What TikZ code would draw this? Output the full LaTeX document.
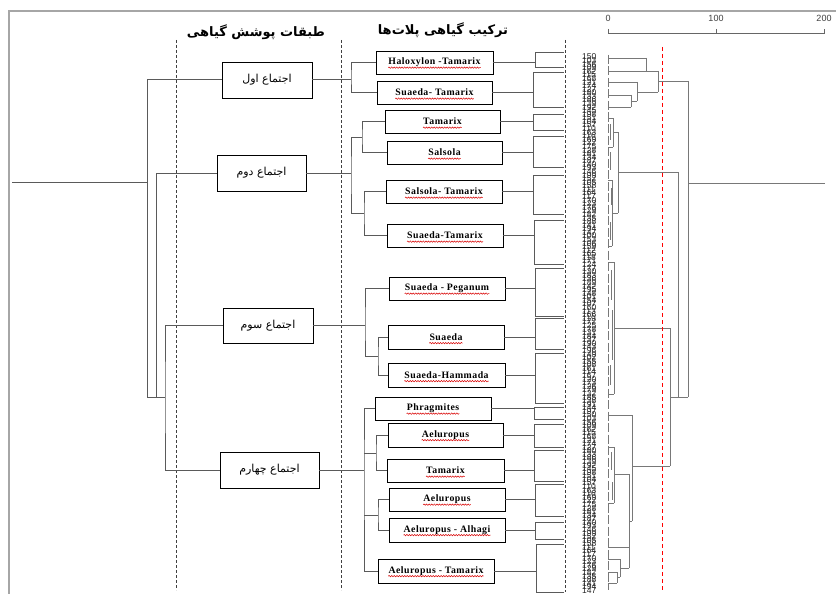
\documentclass[tikz,border=0pt]{standalone}
\usepackage{fontspec}
\usetikzlibrary{decorations.pathmorphing}
\setmainfont{Liberation Serif}
\newfontfamily\fa[Script=Arabic]{DejaVu Sans}
\newfontfamily\spf[LetterSpace=5]{Liberation Serif}
\newfontfamily\axf{Liberation Sans}
\TeXXeTstate=1
\definecolor{ln}{RGB}{90,90,90}
\definecolor{dg}{RGB}{120,120,120}
\begin{document}
\begin{tikzpicture}[x=1pt,y=-1pt,
  comm/.style={draw=black, line width=0.9pt, inner sep=0pt, font=\fa\fontsize{11}{12}\selectfont},
  spec/.style={draw=black, line width=0.9pt, inner sep=0pt},
  spectxt/.style={inner sep=0pt, font=\spf\bfseries\fontsize{9.8}{10}\selectfont},
  wave/.style={draw=red!85!black, line width=0.5pt, decorate, decoration={snake, amplitude=0.7pt, segment length=2.6pt}},
  tree/.style={draw=ln, line width=1pt},
  dend/.style={draw=dg, line width=0.9pt},
  sep/.style={draw=black!75, line width=0.9pt, dash pattern=on 3pt off 2pt},
  hdr/.style={inner sep=0pt, font=\fa\bfseries\fontsize{13}{14}\selectfont},
  leaflab/.style={anchor=west, inner sep=0pt, font=\axf\fontsize{8.5}{9}\selectfont, text=black!85},
  axlab/.style={inner sep=0pt, font=\axf\fontsize{9}{10}\selectfont, text=black!75},
]
\useasboundingbox (0,0) rectangle (836,594);
\fill[white] (0,0) rectangle (836,594);
% frame
\draw[draw=black!35, line width=1.2pt] (9,594) -- (9,11) -- (836,11);
% separators
\draw[sep] (176,40) -- (176,590);
\draw[sep] (341,40) -- (341,590);
\draw[sep] (565,40) -- (565,592);
% headers
\node[hdr] (h1) at (256,32) {\beginR طبقات پوشش گیاهی\endR};
\node[hdr] (h2) at (443,30) {\beginR ترکیب گیاهی پلات‌ها\endR};
% community boxes
\node[comm, minimum width=90pt, minimum height=36pt] (c1) at (267,80) {\beginR اجتماع اول\endR};
\node[comm, minimum width=89pt, minimum height=36pt] (c2) at (261.5,173) {\beginR اجتماع دوم\endR};
\node[comm, minimum width=90pt, minimum height=35pt] (c3) at (268,325.5) {\beginR اجتماع سوم\endR};
\node[comm, minimum width=99pt, minimum height=36pt] (c4) at (269.5,470) {\beginR اجتماع چهارم\endR};
% species boxes
\foreach \s/\x/\y/\w/\h/\txt in {
  1/434.5/62.5/117/23/Haloxylon -Tamarix,
  2/434.5/92.5/115/23/Suaeda- Tamarix,
  3/442.5/121.5/115/23/Tamarix,
  4/444.5/152.5/115/23/Salsola,
  5/444/191.5/116/23/Salsola- Tamarix,
  6/445/235.5/116/23/Suaeda-Tamarix,
  7/447/288.5/116/23/Suaeda - Peganum,
  8/446/337/116/24/Suaeda,
  9/446.5/375/117/24/Suaeda-Hammada,
  10/433/408.5/116/23/Phragmites,
  11/445.5/435/115/24/Aeluropus,
  12/445.5/470.5/117/23/Tamarix,
  13/447/499.5/116/23/Aeluropus,
  14/447/530/116/24/Aeluropus - Alhagi,
  15/436/571/116/24/Aeluropus - Tamarix} {
  \node[spec, minimum width=\w pt, minimum height=\h pt] (s\s) at (\x,\y) {};
  \node[spectxt] (t\s) at (s\s) {\txt};
  \draw[wave] ([yshift=-2.8pt]t\s.base west) -- ([yshift=-2.8pt]t\s.base east);
}
% left tree
\coordinate (root) at (12,182);
\coordinate (L1) at (147,182);
\coordinate (L1b) at (147,397);
\coordinate (L2b) at (156,397);
\coordinate (L3) at (165,397);
\draw[tree] (root) -- (L1);
\draw[tree] (c1.west) -| (L1b);
\draw[tree] (c2.west) -| (L2b);
\draw[tree] (L1b) -- (L3);
\draw[tree] (c3.west) -| (L3) |- (c4.west);
% community 1
\coordinate (b1) at (351,77);
\draw[tree] (s1.west) -| (b1) |- (s2.west);
\draw[tree] (c1.east) -- (c1.east -| b1);
% community 2
\coordinate (b2) at (351,175);
\coordinate (b2a) at (362,137);
\coordinate (b2b) at (364,213.5);
\draw[tree] (s3.west) -| (b2a) |- (s4.west);
\draw[tree] (s5.west) -| (b2b) |- (s6.west);
\draw[tree] (b2a) -| (b2) |- (b2b);
\draw[tree] (c2.east) -- (c2.east -| b2);
% community 3
\coordinate (b3) at (365,325.5);
\coordinate (b3a) at (378,356);
\draw[tree] (s8.west) -| (b3a) |- (s9.west);
\draw[tree] (s7.west) -| (b3) |- (b3a);
\draw[tree] (c3.east) -- (b3);
% community 4
\coordinate (b4) at (364,470);
\coordinate (b4a) at (376,453);
\coordinate (b4b) at (378,515);
\draw[tree] (s10.west) -| (b4) |- (s15.west);
\draw[tree] (s11.west) -| (b4a) |- (s12.west);
\draw[tree] (s13.west) -| (b4b) |- (s14.west);
\draw[tree] (b4a) -- (b4a -| b4);
\draw[tree] (b4b) -- (b4b -| b4);
\draw[tree] (c4.east) -- (b4);
% right brackets
\foreach \s/\xl/\t/\b in {1/535/53/68, 2/533/73/108, 3/533/114/130, 4/533/136/167, 5/533/175/214,
  6/534/220/264, 7/535/268/316, 8/535/318/349, 9/535/353/403, 10/534/407/419,
  11/534/424/447, 12/534/450/481, 13/535/484/516, 14/535/522/539, 15/536/544/592} {
  \coordinate (r\s) at (\xl,\t);
  \draw[tree] (s\s.east) -- (s\s.east -| r\s);
  \draw[tree] (564,\t) -- (r\s) -- (\xl,\b) -- (564,\b);
}
% leaf labels
\foreach \k in {0,...,149} {
  \pgfmathtruncatemacro\nn{100+mod(\k*53+50,100)}
  \node[leaflab] (lf\k) at (582,57+\k*3.58) {\nn};
}
% axis
\draw[draw=black!60, line width=0.9pt] (608,29) -- (608,33) -- (824,33) -- (824,29);
\draw[draw=black!60, line width=0.9pt] (716,29) -- (716,33);
\node[axlab] (ax0) at (608,18) {0};
\node[axlab] (ax1) at (716,18) {100};
\node[axlab] (ax2) at (824,18) {200};
% dendrogram
\draw[dend, dash pattern=on 9pt off 2.5pt] (608,55) -- (608,590);
\draw[dend] (608,58)--(646,58) (646,58)--(646,71) (608,71)--(658,71) (658,71)--(658,92)
  (637,92)--(658,92) (637,82)--(637,101) (608,82)--(637,82) (631,101)--(637,101)
  (631,95)--(631,107) (608,95)--(631,95) (608,107)--(631,107) (658,81)--(688,81);
\draw[dend] (608,118)--(613,118) (613,118)--(613,147) (608,147)--(613,147) (613,132)--(618,132)
  (618,132)--(618,213) (612,180)--(612,246) (608,180)--(612,180) (608,246)--(612,246)
  (612,213)--(618,213) (618,172)--(678,172)
  (610,124)--(610,140) (610,152)--(610,170) (611,188)--(611,205) (610,222)--(610,240);
\draw[dend] (614,262)--(614,394) (608,262)--(614,262) (608,394)--(614,394) (614,328)--(670,328)
  (611,270)--(611,300) (612,310)--(612,360) (610,365)--(610,385);
\draw[dend] (608,415)--(632,415) (632,415)--(632,521) (629,521)--(632,521) (629,474)--(629,568)
  (614,474)--(629,474) (614,447)--(614,503) (608,447)--(614,447) (608,503)--(614,503)
  (611,452)--(611,470) (612,482)--(612,500)
  (608,547)--(629,547) (620,568)--(629,568) (620,559)--(620,577) (608,559)--(620,559)
  (617,577)--(620,577) (617,572)--(617,583) (608,572)--(617,572) (608,583)--(617,583);
\draw[dend] (688,81)--(688,397) (678,172)--(678,397) (670,397)--(688,397)
  (670,328)--(670,466) (632,466)--(670,466) (688,183)--(825,183);
\draw[red, line width=0.8pt, dash pattern=on 4pt off 3pt] (662,47) -- (662,592);
\end{tikzpicture}
\end{document}
